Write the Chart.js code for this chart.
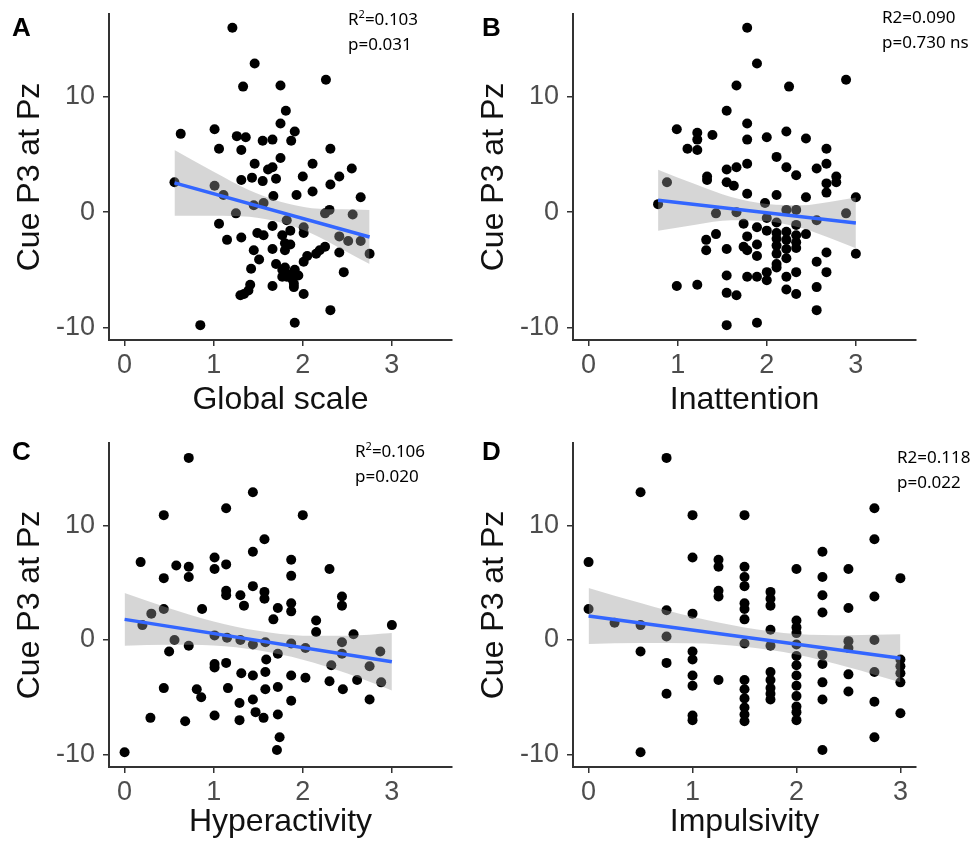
<!DOCTYPE html>
<html>
<head>
<meta charset="utf-8">
<script src="https://cdn.jsdelivr.net/npm/chart.js@4"></script>
<style>
    body { margin: 0; background: #fff; }
    #wrap { position: relative; width: 971px; height: 843px; overflow: hidden; }
    .panel { position: absolute; width: 485px; }
    .letter { position: absolute; font: bold 26px "Liberation Sans", Arial, sans-serif; color: #000; }
    .stats { position: absolute; font: 17px "Noto Sans", sans-serif; line-height: 25px; color: #000; white-space: nowrap; }
    .stats sup { font-size: 11px; line-height: 0; vertical-align: 7px; }
</style>
</head>
<body>
<div id="wrap">
    <div class="panel" style="left:0;top:0;height:421px"><canvas id="chartGlobal"></canvas></div>
    <div class="panel" style="left:464px;top:0;height:421px"><canvas id="chartInatt"></canvas></div>
    <div class="panel" style="left:0;top:421px;height:422px"><canvas id="chartHyper"></canvas></div>
    <div class="panel" style="left:464px;top:421px;height:422px"><canvas id="chartImpuls"></canvas></div>

    <div class="letter" style="left:12px;top:12px">A</div>
    <div class="letter" style="left:482px;top:12px">B</div>
    <div class="letter" style="left:12px;top:436px">C</div>
    <div class="letter" style="left:482px;top:436px">D</div>

    <div class="stats" style="left:348px;top:6px">R<sup>2</sup>=0.103<br>p=0.031</div>
    <div class="stats" style="left:882px;top:4px">R2=0.090<br>p=0.730 ns</div>
    <div class="stats" style="left:355px;top:438px">R<sup>2</sup>=0.106<br>p=0.020</div>
    <div class="stats" style="left:897px;top:444px">R2=0.118<br>p=0.022</div>
</div>
<script>
const xTicks = [0, 1, 2, 3]
const yTicks = [-10, 0, 10]
const yTitle = "Cue P3 at Pz"

// Global scale vs cue P3
const globalPts = [
    [1.21, 16.0], [1.46, 12.9], [1.33, 10.9], [1.75, 11.0], [2.26, 11.5], [1.81, 8.8], [1.75, 7.7], [1.91, 7.0],
    [0.63, 6.8], [1.01, 7.2], [1.06, 5.5], [1.26, 6.6], [1.36, 6.5], [1.31, 5.4], [1.55, 6.2], [1.66, 6.3],
    [1.87, 6.2], [2.31, 5.5], [1.46, 4.2], [1.61, 3.7], [1.66, 3.9], [1.75, 4.7], [2.11, 4.2], [2.55, 3.8],
    [0.56, 2.6], [1.31, 2.8], [1.43, 3.0], [1.55, 2.7], [1.70, 2.9], [2.00, 3.1], [2.41, 3.1], [2.31, 2.4],
    [1.01, 2.3], [1.11, 1.5], [1.67, 1.4], [1.93, 1.5], [2.11, 1.8], [2.65, 1.3], [1.45, 0.6], [1.56, 0.8],
    [1.25, -0.1], [2.30, 0.2], [2.25, -0.1], [2.56, -0.2], [1.06, -1.0], [1.66, -1.2], [1.82, -0.7], [1.86, -1.6],
    [2.01, -1.3], [2.01, -1.8], [1.49, -1.8], [1.56, -2.0], [1.31, -2.2], [1.15, -2.4], [1.77, -2.0], [2.41, -2.1],
    [2.51, -2.5], [2.65, -2.5], [1.45, -3.3], [1.66, -3.2], [1.80, -2.7], [1.86, -2.8], [1.80, -3.3], [2.25, -3.0],
    [2.19, -3.3], [2.15, -3.6], [2.05, -3.8], [2.01, -4.3], [2.41, -3.5], [2.75, -3.6], [1.51, -4.1], [1.70, -4.5],
    [1.42, -4.9], [1.77, -5.0], [1.80, -4.8], [1.77, -5.6], [1.82, -5.6], [1.88, -5.8], [1.91, -5.0], [1.86, -5.4],
    [1.95, -5.5], [2.46, -5.2], [1.66, -6.4], [1.41, -6.3], [1.39, -6.8], [1.34, -7.1], [1.30, -7.2], [1.90, -6.5],
    [1.90, -6.2], [2.01, -7.1], [2.31, -8.5], [0.85, -9.8], [1.91, -9.6]
]
const globalFitX = [0.56, 2.75]
const globalFitY = [2.55, -2.15]
const globalBandX = [0.56, 1.0, 1.4, 1.75, 2.1, 2.45, 2.75]
const globalBandHi = [5.4, 3.5, 1.9, 0.9, 0.35, 0.25, 0.2]
const globalBandLo = [-0.3, -0.3, -0.4, -0.9, -1.85, -3.25, -4.5]

// Inattention vs cue P3
const inattPts = [
    [1.78, 16.0], [1.89, 12.9], [1.66, 11.0], [2.25, 10.9], [2.89, 11.5], [1.55, 8.8], [1.78, 7.7], [0.99, 7.2],
    [1.22, 6.9], [1.22, 6.3], [1.39, 6.7], [1.11, 5.5], [1.22, 5.4], [1.78, 6.3], [2.00, 6.5], [2.22, 7.0],
    [2.44, 6.4], [2.67, 5.5], [2.11, 4.8], [2.22, 3.9], [2.33, 3.2], [2.67, 4.2], [2.56, 3.8], [2.78, 3.1],
    [1.78, 4.2], [1.66, 3.9], [1.55, 3.7], [1.33, 3.1], [1.33, 2.8], [1.55, 2.6], [1.63, 2.3], [0.88, 2.6],
    [1.78, 1.6], [2.67, 2.5], [2.78, 2.6], [2.67, 1.7], [2.11, 1.5], [2.44, 1.3], [3.00, 1.3], [0.78, 0.7],
    [1.43, -0.1], [1.66, 0.0], [1.98, 0.8], [2.22, 0.2], [2.33, 0.2], [2.89, -0.1], [2.56, -0.7], [2.00, -0.5],
    [2.11, -0.9], [2.33, -1.1], [1.74, -1.0], [1.89, -1.3], [2.00, -1.6], [2.11, -1.8], [2.22, -1.7], [2.33, -2.0],
    [2.44, -1.9], [1.43, -1.9], [1.32, -2.4], [1.78, -2.1], [1.74, -3.0], [1.78, -3.3], [1.89, -2.8], [1.89, -3.8],
    [1.32, -3.3], [1.55, -3.2], [2.11, -2.3], [2.22, -2.4], [2.33, -2.6], [2.11, -2.9], [2.22, -3.2], [2.33, -3.1],
    [2.67, -3.5], [3.00, -3.6], [2.11, -3.6], [2.22, -4.0], [2.11, -4.5], [2.11, -4.8], [2.56, -4.3], [2.00, -5.2],
    [2.00, -5.9], [2.22, -5.6], [2.33, -5.2], [2.67, -5.2], [1.55, -5.5], [1.78, -5.6], [1.89, -5.6], [2.22, -6.7],
    [2.33, -7.1], [2.56, -6.5], [0.99, -6.4], [1.22, -6.3], [1.55, -7.0], [1.66, -7.2], [2.56, -8.5], [1.55, -9.8],
    [1.89, -9.6]
]
const inattFitX = [0.78, 3.0]
const inattFitY = [1.04, -0.93]
const inattBandX = [0.78, 1.2, 1.6, 2.0, 2.4, 2.7, 3.0]
const inattBandHi = [3.69, 2.42, 1.31, 0.71, 0.6, 0.88, 1.27]
const inattBandLo = [-1.61, -1.08, -0.69, -0.79, -1.4, -2.22, -3.13]

// Hyperactivity vs cue P3
const hyperPts = [
    [0.72, 15.9], [0.44, 10.9], [1.14, 11.5], [1.44, 12.9], [2.00, 10.9], [1.57, 8.8], [1.44, 7.7], [0.18, 6.8],
    [0.58, 6.5], [0.72, 6.4], [0.72, 5.5], [0.44, 5.4], [1.01, 7.2], [1.01, 6.2], [1.14, 6.6], [1.87, 7.0],
    [1.87, 5.6], [2.30, 6.2], [1.44, 4.7], [1.14, 4.3], [1.14, 3.9], [1.30, 3.9], [1.57, 4.2], [1.57, 3.6],
    [1.34, 3.0], [1.72, 2.8], [1.87, 3.2], [1.87, 2.5], [2.44, 3.8], [2.44, 3.0], [0.87, 2.7], [0.44, 2.7],
    [0.30, 2.3], [1.67, 1.8], [2.15, 1.7], [0.00, -9.8], [0.20, 1.3], [0.56, 0.0], [0.50, -1.0], [0.44, -4.2],
    [0.29, -6.8], [0.68, -7.1], [0.86, -5.0], [0.81, -4.3], [1.01, -6.6], [1.01, -2.1], [1.01, -2.4], [1.14, -2.0],
    [1.16, -4.2], [1.31, -2.9], [1.29, -7.0], [1.29, -5.5], [1.44, -3.1], [1.44, -5.2], [1.47, -6.3], [1.56, -6.8],
    [1.58, -4.3], [1.58, -2.8], [1.59, -1.7], [1.72, -1.2], [1.72, -4.1], [1.72, -6.5], [1.74, -8.5], [1.71, -9.6],
    [1.87, -0.3], [1.87, -3.1], [1.87, -5.3], [2.03, -0.7], [2.03, -3.3], [2.15, 0.7], [2.32, -2.2], [2.30, -3.6],
    [2.44, -1.2], [2.45, -4.3], [2.61, -3.5], [2.75, -2.3], [2.75, -5.2], [2.87, -1.0], [2.88, -3.7], [3.00, 1.3],
    [1.15, 0.2], [1.30, 0.0], [1.44, -0.4], [1.58, -0.2], [0.72, -0.5], [1.01, 0.4], [2.44, -0.2], [2.57, 0.5]
]
const hyperFitX = [0, 3.0]
const hyperFitY = [1.8, -1.9]
const hyperBandX = [0, 0.5, 1.0, 1.5, 2.0, 2.5, 3.0]
const hyperBandHi = [4.1, 2.78, 1.62, 0.8, 0.38, 0.37, 0.6]
const hyperBandLo = [-0.5, -0.42, -0.48, -0.9, -1.72, -2.93, -4.4]

// Impulsivity vs cue P3
const impulsPts = [
    [0, 6.8], [0.75, 15.9], [0.5, 12.9], [1.0, 10.9], [1.5, 10.9], [1.0, 7.2], [1.25, 7.0], [1.25, 6.4],
    [1.5, 6.4], [1.5, 5.5], [1.5, 4.7], [1.25, 4.3], [1.25, 3.8], [1.75, 4.2], [1.75, 3.6], [1.75, 3.0],
    [1.5, 3.2], [1.5, 2.7], [1.5, 1.8], [0, 2.7], [0.75, 2.6], [1.0, 2.3], [2.75, 11.5], [2.75, 8.8],
    [2.25, 7.7], [2.0, 6.2], [2.25, 5.5], [2.25, 3.9], [2.25, 2.4], [2.5, 6.2], [2.5, 2.8], [2.75, 3.8],
    [3.0, 5.4], [2.0, 1.7], [0.25, 1.5], [0.5, 1.3], [0.5, -1.0], [0.5, -9.8], [0.75, 0.3], [0.75, -2.0],
    [0.75, -4.7], [1.0, -1.0], [1.0, -1.7], [1.0, -3.1], [1.0, -4.0], [1.0, -6.6], [1.0, -7.0], [1.25, -3.5],
    [1.5, -0.3], [1.5, -3.5], [1.5, -4.3], [1.5, -5.1], [1.5, -5.9], [1.5, -6.5], [1.5, -7.1], [1.75, 0.9],
    [1.75, -0.5], [1.75, -2.8], [1.75, -3.5], [1.75, -4.2], [1.75, -4.7], [1.75, -5.2], [2.0, 1.1], [2.0, 0.6],
    [2.0, -0.4], [2.0, -1.4], [2.0, -2.2], [2.0, -3.1], [2.0, -4.0], [2.0, -4.9], [2.0, -5.8], [2.0, -6.3],
    [2.0, -7.0], [2.25, -1.3], [2.25, -2.1], [2.25, -3.7], [2.25, -5.2], [2.25, -9.6], [2.5, -0.1], [2.5, -0.7],
    [2.5, -3.0], [2.5, -4.5], [2.75, 0.0], [2.75, -2.8], [2.75, -5.4], [2.75, -8.5], [3.0, -1.7], [3.0, -2.3],
    [3.0, -2.9], [3.0, -3.7], [3.0, -6.4]
]
const impulsFitX = [0, 3.0]
const impulsFitY = [2.1, -1.6]
const impulsBandX = [0, 0.5, 1.0, 1.5, 2.0, 2.5, 3.0]
const impulsBandHi = [4.55, 3.23, 2.02, 1.1, 0.53, 0.42, 0.5]
const impulsBandLo = [-0.35, -0.27, -0.28, -0.6, -1.27, -2.38, -3.7]

const tickFont = {size: 27, family: "'Liberation Sans', Arial, sans-serif"}
const titleFont = {size: 32, family: "'Liberation Sans', Arial, sans-serif"}

const toXY = (xs, ys) => xs.map((x, i) => ({x: x, y: ys[i]}))

const makePanel = (canvasId, points, fitX, fitY, bandX, bandHi, bandLo, xMax, xTitle, padTop, xAxisHeight) => {
    const canvas = document.getElementById(canvasId)
    return new Chart(canvas, {
        type: 'scatter',
        data: {
            datasets: [
                {
                    type: 'line',
                    data: toXY(fitX, fitY),
                    borderColor: '#3366FF',
                    borderWidth: 3.5,
                    pointRadius: 0,
                    fill: false
                },
                {
                    type: 'line',
                    data: toXY(bandX, bandHi),
                    borderWidth: 0,
                    borderColor: 'transparent',
                    pointRadius: 0,
                    cubicInterpolationMode: 'monotone',
                    backgroundColor: 'rgba(153,153,153,0.4)',
                    fill: '+1'
                },
                {
                    type: 'line',
                    data: toXY(bandX, bandLo),
                    borderWidth: 0,
                    borderColor: 'transparent',
                    pointRadius: 0,
                    cubicInterpolationMode: 'monotone',
                    fill: false
                },
                {
                    data: points.map(p => ({x: p[0], y: p[1]})),
                    backgroundColor: '#000',
                    borderWidth: 0,
                    pointRadius: 5
                }
            ]
        },
        options: {
            responsive: true,
            maintainAspectRatio: false,
            animation: false,
            events: [],
            layout: {padding: {top: padTop, right: 33, left: 0, bottom: 0}},
            scales: {
                x: {
                    type: 'linear',
                    min: -0.05 * xMax,
                    max: 1.05 * xMax,
                    afterBuildTicks: (scale) => { scale.ticks = xTicks.map(v => ({value: v})) },
                    afterFit: (scale) => {
                        scale.height = xAxisHeight
                        scale.paddingLeft = 0
                        scale.paddingRight = 0
                    },
                    grid: {drawOnChartArea: false, drawTicks: true, tickLength: 6, color: '#333', lineWidth: 1.5},
                    border: {display: true, color: '#333', width: 2},
                    ticks: {color: '#4d4d4d', font: tickFont, padding: 3, maxRotation: 0},
                    title: {display: true, text: xTitle, color: '#111', font: titleFont, padding: {top: 0, bottom: 2}}
                },
                y: {
                    type: 'linear',
                    min: -11.09,
                    max: 17.2,
                    afterBuildTicks: (scale) => { scale.ticks = yTicks.map(v => ({value: v})) },
                    afterFit: (scale) => {
                        scale.width = 109
                        scale.paddingTop = 0
                        scale.paddingBottom = 0
                    },
                    grid: {drawOnChartArea: false, drawTicks: true, tickLength: 6, color: '#333', lineWidth: 1.5},
                    border: {display: true, color: '#333', width: 2},
                    ticks: {color: '#4d4d4d', font: tickFont, padding: 8},
                    title: {display: true, text: yTitle, color: '#111', font: titleFont, padding: {top: 11, bottom: 0}}
                }
            },
            plugins: {
                legend: {display: false},
                tooltip: {enabled: false}
            }
        }
    })
}

makePanel("chartGlobal", globalPts, globalFitX, globalFitY, globalBandX, globalBandHi, globalBandLo, 3.5, "Global scale", 14, 81)
makePanel("chartInatt", inattPts, inattFitX, inattFitY, inattBandX, inattBandHi, inattBandLo, 3.5, "Inattention", 14, 81)
makePanel("chartHyper", hyperPts, hyperFitX, hyperFitY, hyperBandX, hyperBandHi, hyperBandLo, 3.5, "Hyperactivity", 22, 76)
makePanel("chartImpuls", impulsPts, impulsFitX, impulsFitY, impulsBandX, impulsBandHi, impulsBandLo, 3.0, "Impulsivity", 22, 76)
</script>
</body>
</html>
